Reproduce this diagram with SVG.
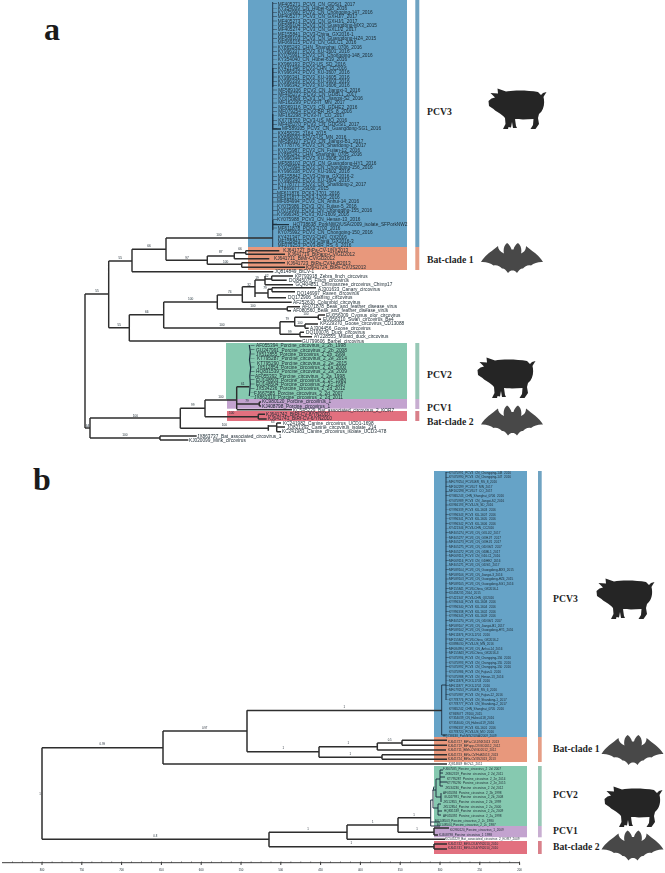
<svg xmlns="http://www.w3.org/2000/svg" width="665" height="873" viewBox="0 0 665 873">
<style>
text{font-family:"Liberation Sans",Arial,sans-serif;fill:#1d2a33}
.pl{font-family:"Liberation Serif","Times New Roman",serif;font-weight:bold;fill:#1a1a1a;font-size:32px}
.cl{font-family:"Liberation Serif","Times New Roman",serif;font-weight:bold;fill:#1f1f1f;font-size:9.7px}
.ta{font-size:4.75px}
.tb{font-size:3.1px}
.sa{font-size:3.2px;text-anchor:middle;fill:#333}
.sb{font-size:2.8px;text-anchor:middle;fill:#333}
.ax{font-size:2.8px;text-anchor:middle;fill:#333}
.tr{fill:none;stroke:#2e2e2e;stroke-width:1.45}
.trb{fill:none;stroke:#2e2e2e;stroke-width:1.5}
.thin{fill:none;stroke:#1e3040;stroke-width:.9}
.blue{fill:#66a3c7}.org{fill:#e8987c}.grn{fill:#86c9b0}.pur{fill:#c3a3cf}.red{fill:#e2707f}
.sblue{fill:#6fa3c2}.sorg{fill:#e69d85}.sgrn{fill:#97c8b6}.spur{fill:#c8aed1}.sred{fill:#d9808a}
.wb{fill:#fff}
.pig{fill:#252525}.bat{fill:#484848}
.soft{filter:url(#soft)}
</style>
<defs>
<filter id="soft" x="-2%" y="-2%" width="104%" height="104%"><feGaussianBlur stdDeviation="0.28"/></filter>
<path id="pig" d="M.5 13L3.5 10.5L7 9.5L2.5 5L10 5.5L9.5.5L18 3.5C25 2 40 2 50 4L53 7L55 5L58.5 4L56 8L55.5 9C57 15 56 22 51 26L50 30L51 36L47.5 41L42.5 41L45 37L45.5 31C38 31.5 31 31.5 27 31L28 38L29 40L25 40L24 34L23 39.5L20.5 39L20 41L15 41L17.5 36L17 30C13 25 8 24 5.5 21L1 18Z"/>
<path id="bat" d="M0 19C4 12 11 8 17 3C17 6 19 9 23 10.5C22 7 23 2 26 0C28 1 30 4 30.5 6.5L32.5 6.5C33 4 35 1 37 0C40 2 41 7 40 10.5C44 9 45 6 45 3C51 8 58 12 62 19C58 18.5 53 20 50 22.5C47 21.5 44 23 42 25.5C40 25 38 27 36 30C34.5 28 33 27.5 31.5 27.5C30 27.5 28.5 28 27 30C25 27 23 25 21 25.5C19 23 15.5 21.5 12.5 22.5C9.5 20 4.5 18.5 0 19Z"/>
</defs>
<rect width="665" height="873" fill="#fff"/>
<g id="panel-a-bands">
<rect class="blue" x="248" y="0" width="159" height="247"/>
<rect class="org" x="248" y="247" width="159" height="23"/>
<rect class="grn" x="226" y="343" width="181" height="56"/>
<rect class="pur" x="227" y="399" width="180" height="9.7"/>
<rect class="red" x="227" y="411" width="180" height="10"/>
<rect class="sblue" x="415.3" y="0" width="4" height="247"/>
<rect class="sorg" x="415.3" y="247" width="4" height="23"/>
<rect class="sgrn" x="415.3" y="343" width="4" height="56"/>
<rect class="spur" x="415.3" y="399" width="4" height="10"/>
<rect class="sred" x="415.3" y="411" width="4" height="10"/>
</g>
<g id="panel-b-bands">
<rect class="blue" x="434" y="471" width="93" height="266"/>
<rect class="org" x="434" y="737" width="93" height="25"/>
<rect class="grn" x="434" y="766" width="93" height="60"/>
<rect class="pur" x="434" y="826" width="93" height="11.3"/>
<rect class="red" x="434" y="841" width="93" height="13"/>
<rect class="sblue" x="538" y="471" width="3.7" height="266"/>
<rect class="sorg" x="538" y="737" width="3.7" height="25"/>
<rect class="sgrn" x="538" y="766" width="3.7" height="60"/>
<rect class="spur" x="538" y="826" width="3.7" height="11.3"/>
<rect class="sred" x="538" y="841" width="3.7" height="13"/>
<rect class="wb" x="444" y="762.3" width="40" height="3.7"/>
<rect class="wb" x="444" y="837.6" width="73" height="3.2"/>
</g>
<g id="connectors" class="soft">
<path class="tr" d="M85 294V428M85 294H108.7M85 428H90M90 418V438M108.7 261V327.7M108.7 261H132M132 249.3V271.7M132 249.3H166M166 238V260.3M166 238H272.7M166 260.3H207.3M207.3 256V264.3M207.3 256H234.3M234.3 252.7V258.7M234.3 252.7H245.7M245.7 250.7V254.3M245.7 250.7H279.3M245.7 254.3H285M234.3 258.7H269.3M207.3 264.3H241.7M241.7 262.7V267.3M241.7 262.7H285M241.7 267.3H305M132 271.7H273.3"/>
<path class="tr" d="M108.7 327.7H129.3M129.3 314.7V341M129.3 314.7H163.7M163.7 302V328M163.7 302H217.3M217.3 295V309M217.3 295H242.3M242.3 286.7V302.3M242.3 302.3H291.7M242.3 286.7H255M255 280V297M255 280H265M265 276V284.7M265 279H271.7M271.7 276V280.3M271.7 276H293M271.7 280.3H286.7M265 284.7H293M255 293H268M268 289.3V297.7M268 289.3H272M272 287.7V291.7M272 287.7H316M272 291.7H295M268 297.7H286M217.3 309H287.3M287.3 306.7V310.7M287.3 306.7H300M287.3 310.7H291M163.7 328H280M280 321.7V334.3M280 321.7H294.7M294.7 317.3V326M294.7 317.3H318.3M318.3 315V319.3M318.3 315H325M318.3 319.3H321M294.7 326H305M305 324V328.3M305 324H318M305 328.3H308.7M280 334.3H300M300 332.3V336.7M300 332.3H304M300 336.7H312M129.3 341H301.7"/>
<path class="tr" d="M90 418H180.3M180.3 408.3V428.3M180.3 408.3H205M205 400V416.7M205 400H236.7M236.7 386.7V409M236.7 386.7H249.3M236.7 409.7H292M236.7 404H259.3M259.3 402V406M259.3 402H261M259.3 406H261M205 416.7H258.3M258.3 414.3V419M258.3 414.3H265M258.3 419H266.7M180.3 428.3H268.3M268.3 425V430.7M268.3 426H276.7M276.7 423V431.7M276.7 423H281M276.7 427H285M276.7 431.7H281M90 438H160M160 436V440M160 436H196.7M160 440H188.3"/>
<path class="thin" d="M272.7 2V247"/>
<path fill="none" stroke="#1e3040" stroke-width="4" stroke-dasharray=".45 3.86" d="M275 3.6V230"/>
<path fill="none" stroke="#1e3040" stroke-width="1.3" d="M272.7 68V87M272.7 114V122M272.7 220V230M272.7 224.7H289M272.7 122V129H281"/>
<path fill="none" stroke="#1e3040" stroke-width="1.2" d="M249.3 345L250.3 352L249.5 360L250.7 368L249.8 376L250.3 384L249.3 396"/>
<path fill="none" stroke="#1e3040" stroke-width="4" stroke-dasharray=".45 3.83" d="M252.5 345.3V397"/>
<path class="trb" d="M42 747.7V839.3M42 747.7H163M163 731V764M163 731H247M247 710.3V751.7M247 710.5H442M247 751.7H319M319 746.7V757.3M319 746.7H377.3M377.3 743V750M377.3 743H402M402 740.3V745.3M402 740.3H447M402 745.3H447M377.3 750H446M319 757.3H382M382 754.7V759.3M382 754.7H447M382 759.3H447M163 764H447M42 839.3H269M269 832.3V846.7M269 832.3H347M347 825V839.3M347 825H398M398 817.7V832.3M398 817.7H430.7M398 832.3H434M434 828V835M434 828H449M434 835H438M347 839.3H445M269 846.7H434M434 844V849M434 844H447M434 849H447"/>
<path class="thin" d="M441.7 685V735H447M441.7 685H446M446 472V700"/>
<path fill="none" stroke="#1e3040" stroke-width="3" stroke-dasharray=".4 4.22" d="M447.3 472.5V700"/>
<path fill="none" stroke="#1e3040" stroke-width="1" d="M430.7 800V826H440M430.7 800H433M433 790V808M433 790H436M436 779V797M436 779H440M440 770V786M440 770H443M440 773H443M440 777H445M440 782H447M440 786H443M436 797H441M441 793V802M433 808H438M438 804V815M438 804H441M438 811H442M438 815H441M430.7 822H440M433 790.5l1 -4"/>
<path fill="none" stroke="#222" stroke-width=".9" d="M2 862.7H520"/>
<path fill="none" stroke="#222" stroke-width="1" stroke-dasharray=".6 9.35" d="M12 862H520"/>
<path fill="none" stroke="#222" stroke-width=".9" d="M42 862.7v2.3M81.8 862.7v2.3M121.6 862.7v2.3M161.4 862.7v2.3M201.2 862.7v2.3M241 862.7v2.3M280.8 862.7v2.3M320.6 862.7v2.3M360.4 862.7v2.3M400.2 862.7v2.3M440 862.7v2.3M479.8 862.7v2.3M519.6 862.7v2.3"/>
</g>
<g id="panel-labels">
<text class="pl" x="44" y="40">a</text>
<text class="pl" x="33" y="490">b</text>
</g>
<g id="clade-labels">
<text class="cl" x="427" y="115">PCV3</text>
<text class="cl" x="427" y="263">Bat-clade 1</text>
<text class="cl" x="427" y="378">PCV2</text>
<text class="cl" x="427" y="411">PCV1</text>
<text class="cl" x="427" y="424.5">Bat-clade 2</text>
<text class="cl" x="553" y="602">PCV3</text>
<text class="cl" x="553" y="752">Bat-clade 1</text>
<text class="cl" x="553" y="798">PCV2</text>
<text class="cl" x="553" y="834">PCV1</text>
<text class="cl" x="553" y="850">Bat-clade 2</text>
</g>
<g id="icons">
<use href="#pig" class="pig" x="488" y="88"/>
<use href="#pig" class="pig" x="477" y="357"/>
<use href="#pig" class="pig" x="596" y="578"/>
<use href="#pig" class="pig" x="604" y="786"/>
<use href="#bat" class="bat" x="481" y="243"/>
<use href="#bat" class="bat" x="481" y="405.5"/>
<use href="#bat" class="bat" x="601.5" y="735"/>
<use href="#bat" class="bat" x="601.5" y="830.5"/>
</g>
<g id="taxa-a" class="ta soft">
<text x="277.7" y="5.5">MF405271_PCV3_CN_GDS/1_2017</text>
<text x="277.7" y="9.8">KY354039_CN_Hubei-618_2016</text>
<text x="277.7" y="14.1">KY075990_PCV3_CN_Chongqing-147_2016</text>
<text x="277.7" y="18.4">MF405277_PCV3_CN_GXHJ/7_2017</text>
<text x="277.7" y="22.7">MF405273_PCV3_CN_GXHJ/1_2017</text>
<text x="277.7" y="27">MF589104_PCV3_CN_Guangdong-MX3_2015</text>
<text x="277.7" y="31.3">MF405274_PCV3_CN_GXLJ/2_2017</text>
<text x="277.7" y="35.6">MF155841_PCV3-China_GX2016-1</text>
<text x="277.7" y="39.9">MF589103_PCV3_CN_Guangdong-HZ4_2015</text>
<text x="277.7" y="44.2">MF069115_PCV3_CN_GDLC1_2016</text>
<text x="277.7" y="48.5">KY865243_CHN_Shanghai_0706_2016</text>
<text x="277.7" y="52.8">KY996337_PCV3_KU-1601_2016</text>
<text x="277.7" y="57.1">KY075991_PCV3_CN_Chongqing-148_2016</text>
<text x="277.7" y="61.4">KY354040_CN_Hubei-619_2016</text>
<text x="277.7" y="65.7">KX966193_PCV3-US_SD_2016</text>
<text x="277.7" y="70">KY421346_PCV3-CHN_CC2016</text>
<text x="277.7" y="74.3">KY996343_PCV3_KU-1607_2016</text>
<text x="277.7" y="78.6">KY996341_PCV3_KU-1605_2016</text>
<text x="277.7" y="82.9">KY996339_PCV3_KU-1603_2016</text>
<text x="277.7" y="87.2">KY996342_PCV3_KU-1606_2016</text>
<text x="278.2" y="91.5">MF589106_PCV3_CN_Jiangxi-3_2016</text>
<text x="278.2" y="95.8">MF405272_PCV3_CN_GDBL1_2017</text>
<text x="278.2" y="100.1">KY075989_PCV3_CN_Jiangxi-S2_2016</text>
<text x="278.2" y="104.4">MF162299_PCV3-IT_MN_2017</text>
<text x="278.2" y="108.7">MF069116_PCV3_CN_GDHE2_2016</text>
<text x="278.2" y="113">MF079254_PCV3-BR_RS_8_2016</text>
<text x="278.2" y="117.3">MF162298_PCV3-IT_CO_2017</text>
<text x="278.2" y="121.6">KX778720_PCV3-US_MO_2016</text>
<text x="278.2" y="125.9">MF405270_PCV3_CN_GDGS/1_2017</text>
<text x="282" y="130.2">MF589105_PCV3_CN_Guangdong-SG1_2016</text>
<text x="277.7" y="134.5">KX458235_2164_2015</text>
<text x="277.7" y="138.8">KX898030_PCV3-US_MN_2016</text>
<text x="278.2" y="143.1">MF589107_PCV3_CN_Jiangxi-B1_2017</text>
<text x="277.7" y="147.4">KY778776_PCV3_CN_Shandong-1_2017</text>
<text x="277.7" y="151.7">KY075987_PCV3_CN_Fujian-12_2016</text>
<text x="277.7" y="156">KY865242_CHN_Shanghai_0705_2016</text>
<text x="277.7" y="160.3">KY996344_PCV3_KU-1608_2016</text>
<text x="277.7" y="164.6">MF589102_PCV3_CN_Guangdong-HY1_2016</text>
<text x="277.7" y="168.9">KY075994_PCV3_CN_Chongqing-156_2016</text>
<text x="277.7" y="173.2">KY996338_PCV3_KU-1602_2016</text>
<text x="277.7" y="177.5">MF155842_PCV3-China_GX2016-2</text>
<text x="277.7" y="181.8">KY996340_PCV3_KU-1604_2016</text>
<text x="277.7" y="186.1">KY778777_PCV3_CN_Shandong-2_2017</text>
<text x="277.7" y="190.4">KT869077_29160_2015</text>
<text x="277" y="194.7">MF611876_PCK3-1701_2016</text>
<text x="277" y="199">MF611877_PCK3-1702_2016</text>
<text x="277" y="203.3">MF084994_PCV3_CN_Anhui-14_2016</text>
<text x="277" y="207.6">KY075986_PCV3_CN_Fujian-5_2016</text>
<text x="277" y="211.9">KY075993_PCV3_CN_Chongqing-155_2016</text>
<text x="277" y="216.2">KY996345_PCV3_KU-1609_2016</text>
<text x="277" y="220.5">KY075988_PCV3_CN_Henan-13_2016</text>
<text x="293" y="226">HQ738638_PorkNW2/USA/2009_isolate_SFPorkNW2</text>
<text x="277.7" y="230">MF611878_PCK3-1703_2016</text>
<text x="277.7" y="234.3">KY075992_PCV3_CN_Chongqing-150_2016</text>
<text x="277.7" y="238.6">KY421347_PCV3-CHN_QX2016</text>
<text x="277.7" y="242.9">MF155843_PCV3-China_GX2016-3</text>
<text x="277.7" y="247">MF079253_PCV3-BR_RS_6_2016</text>
<text x="283.3" y="252">KJ641727_BtPa-CV-1/NX2013</text>
<text x="288" y="256">KJ641719_BtPapp-CV/GD2012</text>
<text x="274" y="260.4">KJ641711_BtMr-CV/GD2012</text>
<text x="287" y="264.7">KJ641723_BtRs-CV/HuB2013</text>
<text x="306" y="269.2">KJ641724_BtRs-CV/JS2013</text>
<text x="274.5" y="273.2">JQ814849_BtCV-1</text>
<text x="295" y="277.7">KP793918_Zebra_finch_circovirus</text>
<text x="289" y="282.2">DQ845075_Finch_circovirus</text>
<text x="295.5" y="286.4">GQ404851_Chimpanzee_circovirus_Chimp17</text>
<text x="318" y="290.7">AJ301633_Canary_circovirus</text>
<text x="297" y="295.2">DQ146997_Raven_circovirus</text>
<text x="288" y="299.4">DQ172906_Starling_circovirus</text>
<text x="293" y="303.7">AF252610_Columbid_circovirus</text>
<text x="302" y="308.4">AF071878_Beak_and_feather_disease_virus</text>
<text x="293" y="312.4">AF080560_Beak_and_feather_disease_virus</text>
<text x="326" y="316.7">EU056309_Cygnus_olor_circovirus</text>
<text x="323" y="321.2">EU056310_Swan_circovirus_Be4</text>
<text x="320" y="325.4">KP229370_Goose_circovirus_CD13088</text>
<text x="310" y="329.7">AJ304456_Goose_circovirus</text>
<text x="306" y="334">DQ100076_Duck_circovirus</text>
<text x="314" y="338.4">AY228555_Mulard_duck_circovirus</text>
<text x="302" y="342.7">GU799606_Barbel_circovirus</text>
<text x="256" y="347.4">AF055394_Porcine_circovirus_2_2b_1998</text>
<text x="256" y="351.7">GU247991_Porcine_circovirus_2_2b_2008</text>
<text x="256" y="356">JX512855_Porcine_circovirus_2_2b_1999</text>
<text x="257" y="360.3">KT795287_Porcine_circovirus_2_2e_2014</text>
<text x="257" y="364.6">KT795290_Porcine_circovirus_2_2e_2015</text>
<text x="257" y="368.9">JX512854_Porcine_circovirus_2_2a_2000</text>
<text x="256" y="373.2">HQ831539_Porcine_circovirus_2_2a_2009</text>
<text x="255" y="377.5">AF055392_Porcine_circovirus_2_2a_1998</text>
<text x="256" y="381.8">EU148503_Porcine_circovirus_2_2c_1980</text>
<text x="256" y="386.1">EU148504_Porcine_circovirus_2_2c_1987</text>
<text x="256" y="390.4">JX534236_Porcine_circovirus_2_2d_2012</text>
<text x="254" y="394.7">FJ667585_Porcine_circovirus_2_2d_2007</text>
<text x="254" y="399">JX862319_Porcine_circovirus_2_2d_2011</text>
<text x="262" y="403.4">KC980120_Porcine_circovirus_1</text>
<text x="262" y="407.7">KJ408798_Porcine_circovirus_1</text>
<text x="293" y="411.7">KC545229_Bat_associated_circovirus_2_KOR7</text>
<text x="266" y="415.7">KJ641742_BtRf-CV-8/YN2010</text>
<text x="268" y="420">KJ641741_BtRf-CV-6/YN2010</text>
<text x="283" y="424.7">KC241982_Canine_circovirus_UCD1-1698</text>
<text x="287" y="429">JQ821392_Canine_circovirus_isolate_214</text>
<text x="282" y="433.4">KC241983_Canine_circovirus_isolate_UCD3-478</text>
<text x="197" y="437.7">JX863737_Bat_associated_circovirus_1</text>
<text x="189" y="441.7">KJ020099_Mink_circovirus</text>
</g>
<g id="support-a" class="sa soft">
<text x="219" y="236">100</text><text x="149" y="247">66</text><text x="120.3" y="258.7">55</text><text x="97" y="292.2">55</text><text x="187" y="258.7">97</text><text x="220.7" y="253.2">87</text><text x="240" y="250.2">66</text><text x="225.7" y="263.2">100</text><text x="266.7" y="276.5">62</text><text x="257" y="279.2">19</text><text x="249" y="285.9">32</text><text x="265" y="289.2">79</text><text x="229.7" y="292.9">74</text><text x="190.7" y="299.9">100</text><text x="253" y="306.5">100</text><text x="146.7" y="312.9">66</text><text x="119.3" y="325.5">55</text><text x="222" y="325.9">100</text><text x="287.3" y="319.5">79</text><text x="306" y="315.2">100</text><text x="300" y="323.9">100</text><text x="289.7" y="332.5">99</text><text x="242.7" y="384.9">61</text><text x="221" y="398.2">100</text><text x="247" y="401.9">79</text><text x="192.7" y="406.2">99</text><text x="231.7" y="413.9">100</text><text x="135.3" y="416.5">100</text><text x="224.3" y="426.2">100</text><text x="272.7" y="422.9">63</text><text x="125" y="435.9">100</text><text x="87.5" y="427">64</text>
</g>
<g id="taxa-b" class="tb soft">
<text x="449" y="473.8">KY075991_PCV3_CN_Chongqing-148_2016</text>
<text x="449" y="478.4">KY075990_PCV3_CN_Chongqing-147_2016</text>
<text x="449" y="483.1">MF079254_PCV3-BR_RS_8_2016</text>
<text x="449" y="487.7">MF162299_PCV3-IT_MN_2017</text>
<text x="449" y="492.3">MF162298_PCV3-IT_CO_2017</text>
<text x="449" y="497">KY865243_CHN_Shanghai_0706_2016</text>
<text x="449" y="501.6">KY075989_PCV3_CN_Jiangxi-S2_2016</text>
<text x="449" y="506.2">KX966193_PCV3-US_SD_2016</text>
<text x="449" y="510.8">KY996339_PCV3_KU-1603_2016</text>
<text x="449" y="515.5">KY996343_PCV3_KU-1607_2016</text>
<text x="449" y="520.1">KY996341_PCV3_KU-1605_2016</text>
<text x="449" y="524.7">KY996342_PCV3_KU-1606_2016</text>
<text x="449" y="529.4">KY421346_PCV3-CHN_CC2016</text>
<text x="449" y="534">MF405274_PCV3_CN_GXLJ/2_2017</text>
<text x="449" y="538.6">MF405277_PCV3_CN_GXHJ/7_2017</text>
<text x="449" y="543.3">MF405273_PCV3_CN_GXHJ/1_2017</text>
<text x="449" y="547.9">MF405275_PCV3_CN_GDGS/2_2017</text>
<text x="449" y="552.5">MF405272_PCV3_CN_GDBL1_2017</text>
<text x="449" y="557.1">MF069115_PCV3_CN_GDLC1_2016</text>
<text x="449" y="561.8">MF069116_PCV3_CN_GDHE2_2016</text>
<text x="449" y="566.4">MF405271_PCV3_CN_GDS/1_2017</text>
<text x="449" y="571">MF589104_PCV3_CN_Guangdong-MX3_2015</text>
<text x="449" y="575.7">MF589106_PCV3_CN_Jiangxi-3_2016</text>
<text x="449" y="580.3">MF589103_PCV3_CN_Guangdong-HZ4_2015</text>
<text x="449" y="584.9">MF589105_PCV3_CN_Guangdong-SG1_2016</text>
<text x="449" y="589.6">MF155841_PCV3-China_GX2016-1</text>
<text x="449" y="594.2">KX458235_2164_2015</text>
<text x="449" y="598.8">KY421347_PCV3-CHN_QX2016</text>
<text x="449" y="603.4">KY996344_PCV3_KU-1608_2016</text>
<text x="449" y="608.1">KY996340_PCV3_KU-1604_2016</text>
<text x="449" y="612.7">KY996338_PCV3_KU-1602_2016</text>
<text x="449" y="617.3">KY996345_PCV3_KU-1609_2016</text>
<text x="449" y="622">MF405270_PCV3_CN_GDGS/1_2017</text>
<text x="449" y="626.6">MF589107_PCV3_CN_Jiangxi-B1_2017</text>
<text x="449" y="631.2">MF589102_PCV3_CN_Guangdong-HY1_2016</text>
<text x="449" y="635.9">MF611876_PCK3-1701_2016</text>
<text x="449" y="640.5">MF155842_PCV3-China_GX2016-2</text>
<text x="449" y="645.1">KX898030_PCV3-US_MN_2016</text>
<text x="449" y="649.7">MF084994_PCV3_CN_Anhui-14_2016</text>
<text x="449" y="654.4">MF155843_PCV3-China_GX2016-3</text>
<text x="449" y="659">KY075994_PCV3_CN_Chongqing-156_2016</text>
<text x="449" y="663.6">KY075993_PCV3_CN_Chongqing-155_2016</text>
<text x="449" y="668.3">KY075992_PCV3_CN_Chongqing-150_2016</text>
<text x="449" y="672.9">KY075986_PCV3_CN_Fujian-5_2016</text>
<text x="449" y="677.5">KY075988_PCV3_CN_Henan-13_2016</text>
<text x="449" y="682.2">MF611878_PCK3-1703_2016</text>
<text x="449" y="686.8">MF611877_PCK3-1702_2016</text>
<text x="449" y="691.4">MF079253_PCV3-BR_RS_6_2016</text>
<text x="449" y="696">KY075987_PCV3_CN_Fujian-12_2016</text>
<text x="449" y="700.7">KY778776_PCV3_CN_Shandong-1_2017</text>
<text x="449" y="705.3">KY778777_PCV3_CN_Shandong-2_2017</text>
<text x="449" y="709.9">KY865242_CHN_Shanghai_0705_2016</text>
<text x="449" y="714.6">KT869077_29160_2015</text>
<text x="449" y="719.2">KY354039_CN_Hubei-618_2016</text>
<text x="449" y="723.8">KY354040_CN_Hubei-619_2016</text>
<text x="449" y="728.5">KY996337_PCV3_KU-1601_2016</text>
<text x="449" y="733.1">KX778720_PCV3-US_MO_2016</text>
<text x="443" y="737">HQ738638_PorkNW2/USA/2009_2009</text>
<text x="448" y="742.8">KJ641727_BtPa-CV-1/NX2013_2013</text>
<text x="448" y="746.8">KJ641719_BtPapp-CV/GD2012_2012</text>
<text x="448" y="751.1">KJ641711_BtMr-CV/GD2012_2012</text>
<text x="448" y="756.1">KJ641723_BtRs-CV/HuB2013_2013</text>
<text x="448" y="760.4">KJ641724_BtRs-CV/JS2013_2013</text>
<text x="448" y="765.4">JQ814849_BtCV-1_2011</text>
<text x="443" y="770.4">FJ667585_Porcine_circovirus_2_2d_2007</text>
<text x="445" y="775">JX862319_Porcine_circovirus_2_2d_2011</text>
<text x="447" y="779.6">KT795287_Porcine_circovirus_2_2e_2014</text>
<text x="447" y="784.3">KT795290_Porcine_circovirus_2_2e_2015</text>
<text x="445" y="788.9">JX534236_Porcine_circovirus_2_2d_2012</text>
<text x="443" y="793.6">AF055394_Porcine_circovirus_2_2b_1998</text>
<text x="444" y="798.2">GU247991_Porcine_circovirus_2_2b_2008</text>
<text x="443" y="802.9">JX512855_Porcine_circovirus_2_2b_1999</text>
<text x="443" y="807.5">JX512854_Porcine_circovirus_2_2a_2000</text>
<text x="444" y="812.2">HQ831539_Porcine_circovirus_2_2a_2009</text>
<text x="443" y="816.8">AF055392_Porcine_circovirus_2_2a_1998</text>
<text x="435" y="821.5">EU148503_Porcine_circovirus_2_2c_1980</text>
<text x="437" y="826.1">EU148504_Porcine_circovirus_2_2c_1987</text>
<text x="450" y="830.7">KC980120_Porcine_circovirus_1_2009</text>
<text x="439" y="835.7">KJ408798_Porcine_circovirus_1_1998</text>
<text x="445" y="840.4">KC545229_Bat_associated_circovirus_2_KOR7_2009</text>
<text x="448" y="845.1">KJ641742_BtRf-CV-8/YN2010_2010</text>
<text x="448" y="849.4">KJ641741_BtRf-CV-6/YN2010_2010</text>
</g>
<g id="support-b" class="sb soft">
<text x="102.3" y="745.3">0.99</text><text x="204.7" y="728.7">0.97</text><text x="344.3" y="708.3">1</text><text x="283.3" y="749.3">1</text><text x="348.3" y="744.3">1</text><text x="389.7" y="740.7">0.5</text><text x="350.3" y="754.7">1</text><text x="155.3" y="837">0.8</text><text x="308" y="830">1</text><text x="372.7" y="822.7">1</text><text x="414" y="815.7">1</text><text x="417" y="830">1</text><text x="351.3" y="844">1</text><text x="40" y="794.7">1</text>
</g>
<g id="axis-labels" class="ax soft">
<text x="42" y="870.8">800</text><text x="81.8" y="870.8">750</text><text x="121.6" y="870.8">700</text><text x="161.4" y="870.8">650</text><text x="201.2" y="870.8">600</text><text x="241" y="870.8">550</text><text x="280.8" y="870.8">500</text><text x="320.6" y="870.8">450</text><text x="360.4" y="870.8">400</text><text x="400.2" y="870.8">350</text><text x="440" y="870.8">300</text><text x="479.8" y="870.8">250</text><text x="519.6" y="870.8">200</text>
</g>
</svg>
